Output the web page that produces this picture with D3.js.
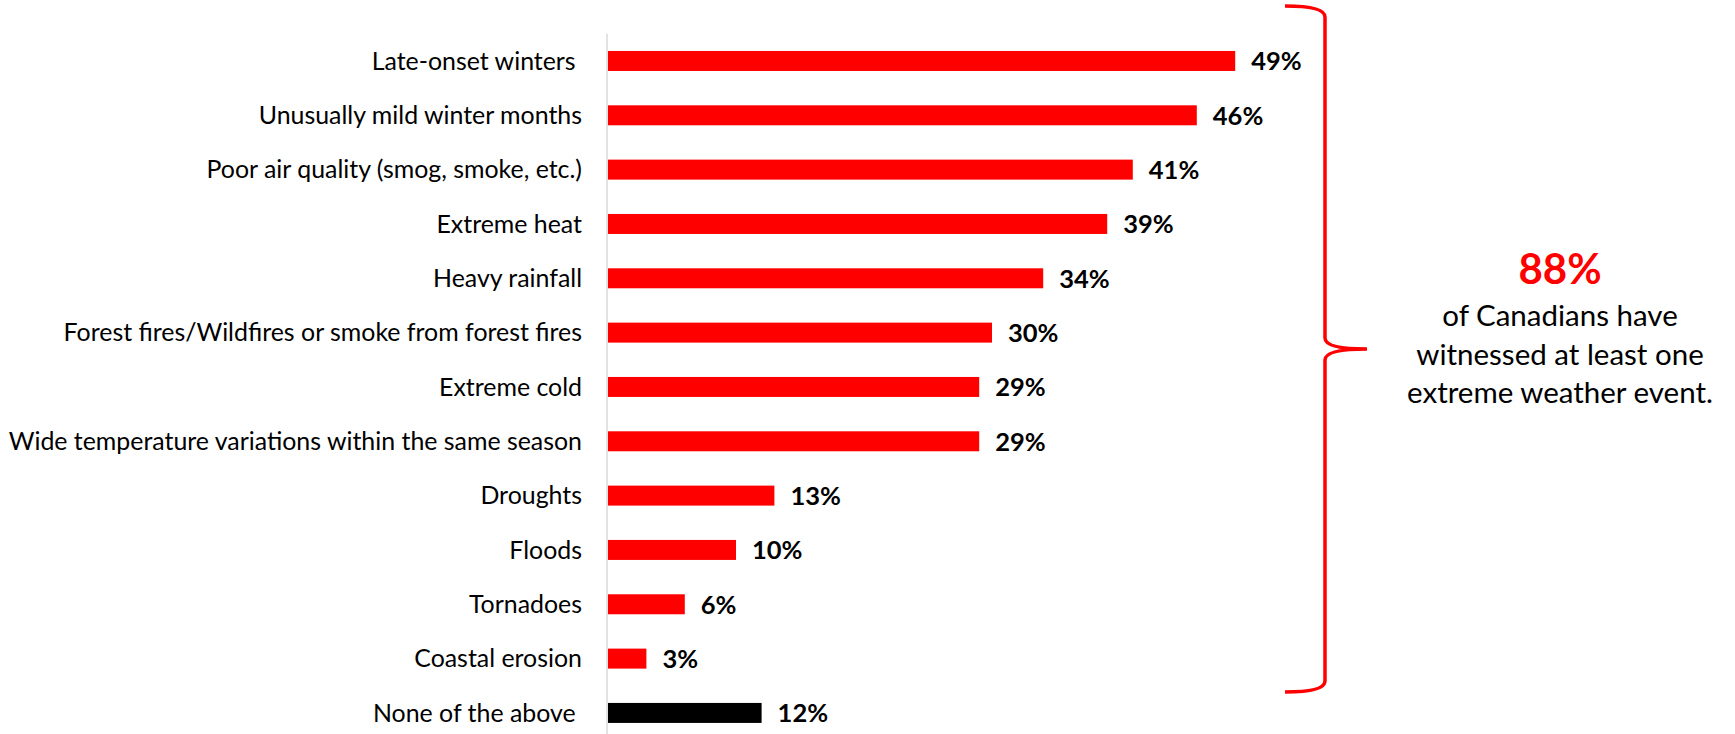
<!DOCTYPE html>
<html>
<head>
<meta charset="utf-8">
<script src="https://cdn.jsdelivr.net/npm/d3@7/dist/d3.min.js"></script>
<style>
  html, body { margin: 0; padding: 0; background: #ffffff; }
  svg { display: block; }
  text { font-family: Lato, "Open Sans", "Liberation Sans", sans-serif; }
</style>
</head>
<body>
<svg id="chart" width="1735" height="734"></svg>
<script>
// ---- data ----
const categories = [
  "Late-onset winters ",
  "Unusually mild winter months",
  "Poor air quality (smog, smoke, etc.)",
  "Extreme heat",
  "Heavy rainfall",
  "Forest fires/Wildfires or smoke from forest fires",
  "Extreme cold",
  "Wide temperature variations within the same season",
  "Droughts",
  "Floods",
  "Tornadoes",
  "Coastal erosion",
  "None of the above "
];
const values = [49, 46, 41, 39, 34, 30, 29, 29, 13, 10, 6, 3, 12];
const barColors = ["#ff0000","#ff0000","#ff0000","#ff0000","#ff0000","#ff0000","#ff0000","#ff0000","#ff0000","#ff0000","#ff0000","#ff0000","#000000"];
const calloutValue = "88%";
const calloutLines = ["of Canadians have", "witnessed at least one", "extreme weather event."];

// ---- layout ----
const svg = d3.select("#chart");
const x = d3.scaleLinear().domain([0, 50]).range([608, 1248]);
const y = d3.scaleBand().domain(categories).range([33.8, 740.1])
  .paddingInner(0.632).paddingOuter(0.316);

const rows = categories.map((c, i) => ({ cat: c, val: values[i], color: barColors[i] }));

// bars
svg.append("g").selectAll("rect").data(rows).join("rect")
  .attr("x", x(0))
  .attr("y", d => y(d.cat))
  .attr("width", d => x(d.val) - x(0))
  .attr("height", y.bandwidth())
  .attr("fill", d => d.color);

// axis line (category axis)
const yAxis = d3.axisLeft(y).tickSize(0).tickPadding(25);
const gAxis = svg.append("g").attr("transform", "translate(607,0)").call(yAxis);
gAxis.select(".domain").attr("stroke", "#d9d9d9").attr("stroke-width", 1.5)
  .attr("d", `M0,${y.range()[0]}V${y.range()[1]}`);
gAxis.selectAll(".tick text")
  .attr("font-family", "Lato, 'Open Sans', sans-serif")
  .attr("font-size", 24.9)
  .attr("fill", "#000")
  .attr("dy", "0.35em")
  .style("white-space", "pre");
gAxis.selectAll(".tick text").each(function() { d3.select(this).attr("y", y.bandwidth() / 2); });
gAxis.selectAll(".tick").attr("transform", d => `translate(0,${y(d)})`);

// value labels
svg.append("g").selectAll("text").data(rows).join("text")
  .attr("x", d => x(d.val) + 16)
  .attr("y", d => y(d.cat) + y.bandwidth() / 2)
  .attr("dy", "0.37em")
  .attr("font-size", 25.5)
  .attr("font-weight", "bold")
  .attr("fill", "#000")
  .text(d => d.val + "%");

// brace
svg.append("path")
  .attr("d", "M1285,6 Q1325,6 1325,17 L1325,338 Q1325,349 1367,349 Q1325,349 1325,360 L1325,681 Q1325,692 1285,692")
  .attr("fill", "none")
  .attr("stroke", "#ff0000")
  .attr("stroke-width", 3.5);

// callout
svg.append("text")
  .attr("x", 1560).attr("y", 284)
  .attr("text-anchor", "middle")
  .attr("font-size", 42)
  .attr("font-weight", "bold")
  .attr("fill", "#ff0000")
  .text(calloutValue);
svg.append("g").selectAll("text").data(calloutLines).join("text")
  .attr("x", 1560)
  .attr("y", (d, i) => 326 + i * 38.5)
  .attr("text-anchor", "middle")
  .attr("font-size", 29.5)
  .attr("fill", "#000")
  .text(d => d);
</script>
</body>
</html>
